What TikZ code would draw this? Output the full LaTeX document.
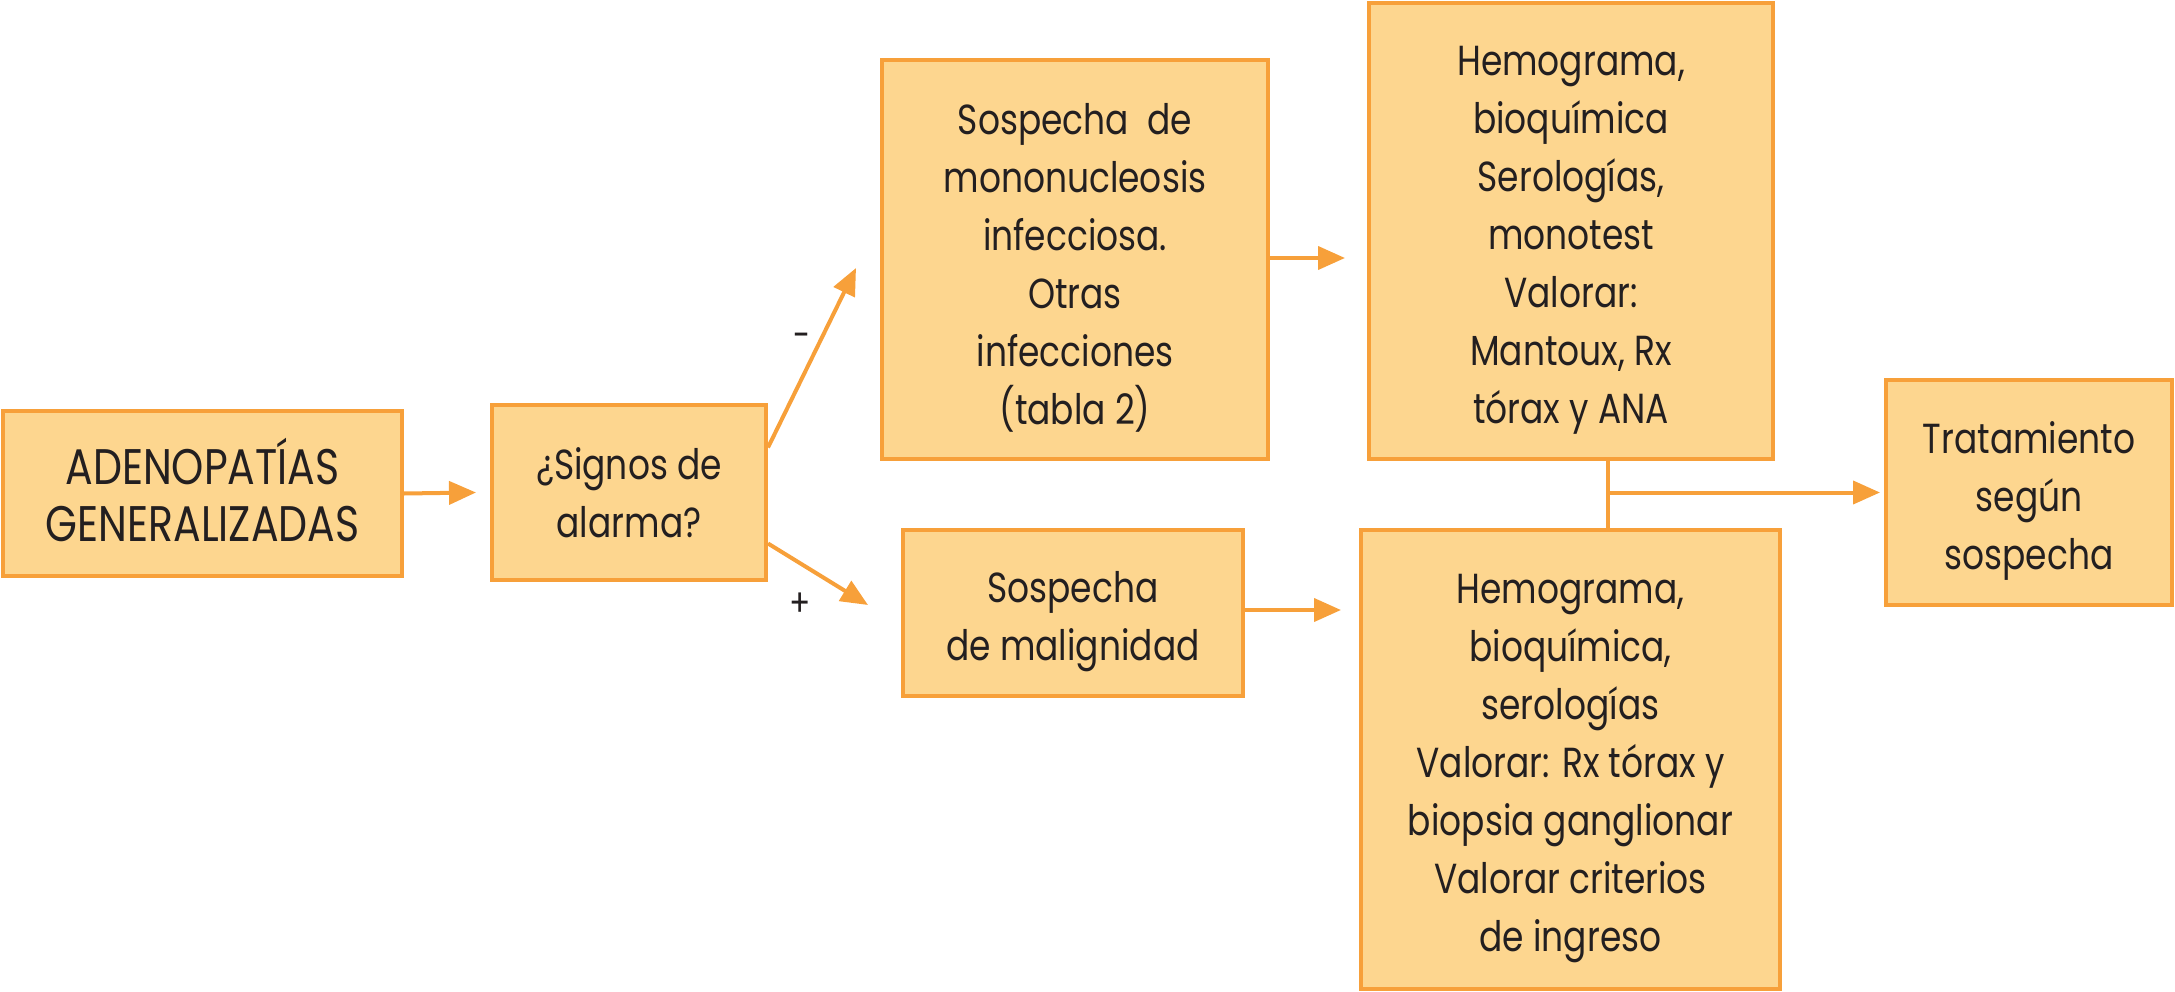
\documentclass[tikz,border=0pt]{standalone}
\usepackage{fontspec}
\setmainfont{Poppins}[FakeStretch=0.82]
\usetikzlibrary{arrows.meta,calc}
\definecolor{boxfill}{RGB}{253,214,143}
\definecolor{boxline}{RGB}{247,160,58}
\definecolor{txt}{RGB}{35,31,32}
\newcommand{\topstrut}{\rule{0pt}{48pt}}
\newcommand{\botstrut}{\rule[-8pt]{0pt}{8pt}}
\begin{document}
\begin{tikzpicture}[x=1pt,y=-1pt,
  box/.style={draw=boxline,fill=boxfill,line width=4pt,rectangle,inner sep=0pt,
    align=center,text=txt,font=\fontsize{42}{58}\selectfont},
  arr/.style={draw=boxline,line width=4pt,-{Triangle[length=27pt,width=23pt]}},
  lnk/.style={draw=boxline,line width=4pt},
  lbl/.style={text=txt,font=\fontsize{38}{40}\selectfont,inner sep=0pt}]
\useasboundingbox (0,0) rectangle (2175,992);
\node[box,minimum width=399pt,minimum height=165pt,font=\fontsize{50}{57}\selectfont] (A) at (202.5,493.5) {ADENOPATÍAS\\GENERALIZADAS\botstrut};
\node[box,minimum width=274pt,minimum height=175pt] (B) at (629,492.5) {¿Signos de\\alarma?};
\node[box,minimum width=386pt,minimum height=399pt] (C) at (1075,259.5) {\topstrut Sospecha\ \ de\\mononucleosis\\infecciosa.\\Otras\\infecciones\\(tabla 2)};
\node[box,minimum width=404pt,minimum height=456pt] (D) at (1571,231) {\topstrut Hemograma,\\bioquímica\\Serologías,\\monotest\\Valorar:\\Mantoux, Rx\\tórax y ANA};
\node[box,minimum width=340pt,minimum height=166pt] (E) at (1073,613) {\topstrut Sospecha\\de malignidad};
\node[box,minimum width=419pt,minimum height=459pt] (F) at (1570.5,759.5) {\topstrut Hemograma,\\bioquímica,\\serologías\\Valorar: Rx tórax y\\biopsia ganglionar\\Valorar criterios\\de ingreso};
\node[box,minimum width=286pt,minimum height=225pt] (G) at (2029,492.5) {\topstrut Tratamiento\\según\\sospecha};
\coordinate (bcEnd) at (856,268);
\coordinate (beEnd) at (868,605);
\coordinate (J) at (1608,492.5);
\draw[arr] (A.east) -- ([xshift=-14pt]B.west);
\draw[arr] ([yshift=45pt]B.east) -- (bcEnd);
\draw[arr] ([yshift=-51pt]B.east) -- (beEnd);
\node[lbl] (minus) at (802,341) {-};
\node[lbl] (plus) at (800,605) {+};
\draw[arr] ([yshift=1.5pt]C.east) -- ([xshift=-22pt,yshift=1.5pt]D.west |- C.east);
\draw[arr] ([yshift=3pt]E.east) -- ([xshift=-18pt,yshift=3pt]F.west |- E.east);
\draw[lnk] (D.south -| J) -- (F.north -| J);
\draw[arr] (J) -- ([xshift=-4pt]G.west);
\end{tikzpicture}
\end{document}
